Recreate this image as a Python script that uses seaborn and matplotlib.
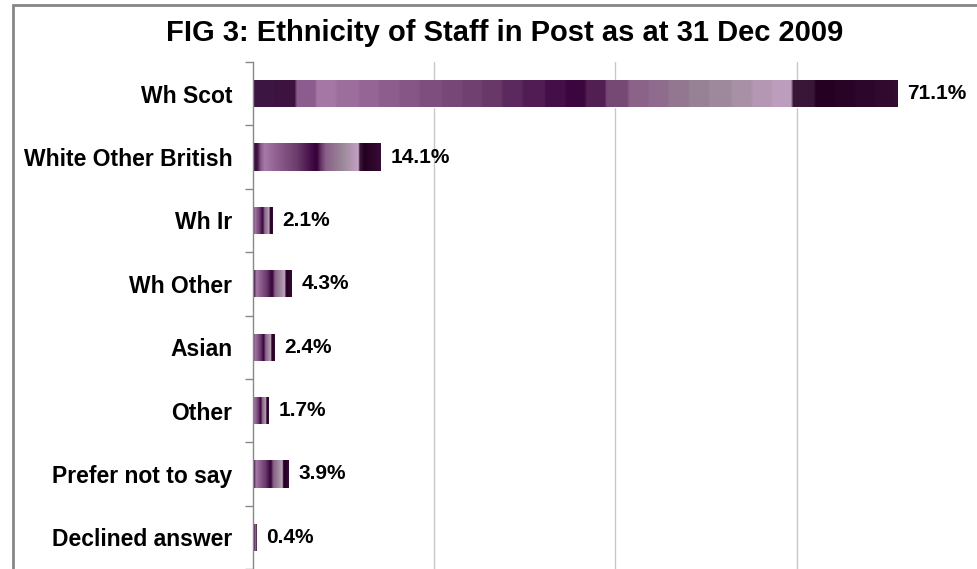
import numpy as np
import pandas as pd
import matplotlib
matplotlib.use("Agg")
import matplotlib.pyplot as plt
import seaborn as sns
from matplotlib.colors import LinearSegmentedColormap
from matplotlib.patches import Rectangle

# data
categories = ["Wh Scot", "White Other British", "Wh Ir", "Wh Other",
              "Asian", "Other", "Prefer not to say", "Declined answer"]
percent = [71.1, 14.1, 2.1, 4.3, 2.4, 1.7, 3.9, 0.4]
value_labels = ["71.1%", "14.1%", "2.1%", "4.3%", "2.4%", "1.7%", "3.9%", "0.4%"]

df = pd.DataFrame({"ethnicity": categories, "percent": percent})

# excel-ish purple texture, stops along the bar length
stops = [
    (0.00, "#3c1542"), (0.03, "#3a0f3c"), (0.06, "#8a5a8c"), (0.09, "#a679a6"),
    (0.20, "#8c5c8c"), (0.35, "#6a3a6a"), (0.45, "#45104a"), (0.50, "#360038"),
    (0.53, "#653565"), (0.57, "#8a6088"), (0.70, "#9a8898"), (0.80, "#bc9cbc"),
    (0.825, "#c2a2c2"), (0.835, "#3c1a3a"), (0.87, "#250022"), (1.00, "#360c34"),
]
purple_tex = LinearSegmentedColormap.from_list("purple_tex", stops)

sns.set_style("white")
plt.rcParams["font.family"] = ["Liberation Sans", "DejaVu Sans"]
plt.rcParams["text.color"] = "black"
plt.rcParams["ytick.color"] = "black"

fig = plt.figure(figsize=(9.78, 5.69), dpi=100)
ax = fig.add_axes([253 / 978, 0.0, 1 - 253 / 978, 1 - 62 / 569])

sns.barplot(data=df, x="percent", y="ethnicity", orient="h", color="#5a2a5a",
            width=0.43, ax=ax, saturation=1)

# put the gradient inside every bar
grad = np.linspace(0, 1, 256).reshape(1, -1)
for patch in ax.patches:
    x0, y0 = patch.get_x(), patch.get_y()
    w, h = patch.get_width(), patch.get_height()
    n_blocks = max(4, int(w * 0.45))
    g = np.floor(grad * n_blocks) / n_blocks if w > 40 else grad
    im = ax.imshow(g, cmap=purple_tex, aspect="auto", extent=(x0, x0 + w, y0 + h, y0),
                   zorder=patch.get_zorder() + 0.1, interpolation="bilinear")
    im.set_clip_path(patch)

ax.set_xlim(0, 80)
ax.set_ylim(len(categories) - 0.5, -0.5)
ax.set_xticks([20, 40, 60])
ax.xaxis.grid(True, color="#c8c8c8", linewidth=1)
ax.set_axisbelow(True)
ax.tick_params(axis="x", length=0, labelbottom=False)
ax.set_xlabel("")
ax.set_ylabel("")

ax.set_yticks(range(len(categories)))
ax.set_yticklabels(categories, fontsize=16.5, fontweight="bold", color="black")
ax.tick_params(axis="y", which="major", length=0, pad=15)
ax.set_yticks(np.arange(-0.5, len(categories), 1.0), minor=True)
ax.tick_params(axis="y", which="minor", left=True, length=6, color="#888888", width=1)

for s in ["top", "right", "bottom"]:
    ax.spines[s].set_visible(False)
ax.spines["left"].set_color("#888888")
ax.spines["left"].set_linewidth(1)

for patch, lab in zip(ax.patches, value_labels):
    ax.annotate(lab, (patch.get_x() + patch.get_width(), patch.get_y() + patch.get_height() / 2),
                xytext=(7, 0), textcoords="offset points", va="center", ha="left",
                fontsize=15, fontweight="bold", color="black")

fig.text(505 / 978, 1 - 33 / 569, "FIG 3: Ethnicity of Staff in Post as at 31 Dec 2009",
         ha="center", va="center", fontsize=21, fontweight="bold", color="black")

# chart frame (top and left edges visible)
fig.add_artist(Rectangle((13 / 978, -0.1), 1.2, 1.1 - 5 / 569, transform=fig.transFigure,
                         fill=False, edgecolor="#868686", linewidth=2))

fig.savefig("out.png", dpi=100)
